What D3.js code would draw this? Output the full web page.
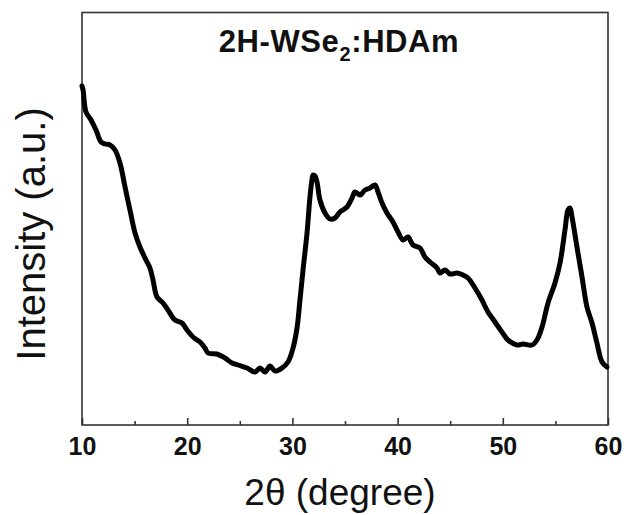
<!DOCTYPE html>
<html>
<head>
<meta charset="utf-8">
<script src="https://cdn.jsdelivr.net/npm/d3@7"></script>
<style>
  html, body { margin: 0; padding: 0; background: #fff; }
  svg { display: block; font-family: Arial, "Liberation Sans", sans-serif; }
</style>
</head>
<body>
<svg id="chart"></svg>
<script>
// XRD pattern
const twoTheta = [
  10.00, 10.10, 10.38, 10.86, 11.33, 11.81, 12.19, 12.66, 13.14, 13.61,
  14.09, 14.56, 15.04, 15.51, 16.08, 16.46, 16.75, 17.13, 17.70, 18.17,
  18.84, 19.50, 19.98, 20.55, 21.22, 21.69, 21.98, 22.83, 23.59, 24.26,
  24.83, 25.68, 26.44, 26.92, 27.40, 27.87, 28.35, 29.01, 29.58, 30.06,
  30.44, 30.72, 31.01, 31.39, 31.67, 31.86, 31.96, 32.15, 32.34, 32.62,
  33.10, 33.57, 34.05, 34.52, 35.19, 35.67, 35.95, 36.43, 36.90, 37.38,
  37.85, 38.14, 38.52, 38.99, 39.56, 40.04, 40.51, 40.99, 41.46, 42.13,
  42.60, 43.08, 43.75, 44.03, 44.51, 44.98, 45.65, 46.22, 46.69, 47.36,
  48.02, 48.59, 49.26, 49.92, 50.49, 51.35, 51.92, 52.78, 53.25, 53.73,
  54.30, 54.96, 55.44, 55.91, 56.20, 56.39, 56.58, 57.05, 57.53, 58.00,
  58.48, 58.95, 59.43, 59.90
]
const intensity = [
  339, 335, 313, 305, 295, 283, 281, 280, 275, 262,
  238, 215, 192, 178, 165, 157, 145, 128, 122, 115,
  105, 102, 95, 88, 83, 77, 72, 71, 67, 62,
  60, 57, 53, 57, 53, 59, 54, 57, 63, 77,
  97, 125, 155, 192, 228, 245, 250, 249, 243, 225,
  212, 206, 207, 213, 218, 227, 233, 230, 235, 237,
  240, 233, 222, 212, 203, 193, 185, 188, 180, 177,
  168, 163, 157, 152, 155, 151, 152, 150, 147, 137,
  125, 113, 103, 93, 85, 80, 81, 80, 85, 98,
  122, 142, 162, 195, 215, 217, 208, 178, 148, 118,
  102, 82, 63, 58
]

const majorTicks = [10, 20, 30, 40, 50, 60]
const minorTicks = [15, 25, 35, 45, 55]

const title = '2H-WSe'
const titleSub = '2'
const titleTail = ':HDAm'
const xLabel = '2θ (degree)'
const yLabel = 'Intensity (a.u.)'

const width = 627
const height = 515
const margin = { top: 12.5, right: 19, bottom: 90, left: 82 }

const svg = d3.select('#chart')
  .attr('width', width)
  .attr('height', height)

const x = d3.scaleLinear()
  .domain([10, 60])
  .range([margin.left, width - margin.right])

const y = d3.scaleLinear()
  .domain([0, 412.5])
  .range([height - margin.bottom, margin.top])

const points = twoTheta.map((t, i) => [t, intensity[i]])

// Frame
svg.append('rect')
  .attr('x', x(10))
  .attr('y', y(412.5))
  .attr('width', x(60) - x(10))
  .attr('height', y(0) - y(412.5))
  .attr('fill', 'none')
  .attr('stroke', '#333')
  .attr('stroke-width', 1.6)

// x axis, ticks pointing inward
const xAxisGroup = svg.append('g')
  .attr('transform', `translate(0,${y(0)})`)
  .call(d3.axisBottom(x).tickValues(majorTicks).tickSizeInner(-7).tickSizeOuter(0).tickPadding(12).tickFormat(d3.format('d')))

xAxisGroup.select('.domain').remove()
xAxisGroup.selectAll('.tick line').attr('stroke', '#333').attr('stroke-width', 1.6)
xAxisGroup.selectAll('.tick text')
  .attr('fill', '#111')
  .attr('font-size', 25)
  .attr('font-weight', 'bold')
  .attr('font-family', 'Arial, "Liberation Sans", sans-serif')

const minorGroup = svg.append('g')
  .attr('transform', `translate(0,${y(0)})`)
  .call(d3.axisBottom(x).tickValues(minorTicks).tickSizeInner(-4).tickSizeOuter(0).tickFormat(''))
minorGroup.select('.domain').remove()
minorGroup.selectAll('.tick line').attr('stroke', '#333').attr('stroke-width', 1.6)

// Pattern
const line = d3.line()
  .x(d => x(d[0]))
  .y(d => y(d[1]))
  .curve(d3.curveCatmullRom.alpha(0.5))

svg.append('path')
  .datum(points)
  .attr('fill', 'none')
  .attr('stroke', '#000')
  .attr('stroke-width', 5)
  .attr('stroke-linejoin', 'round')
  .attr('stroke-linecap', 'round')
  .attr('d', line)

// Title inside the plot
const t = svg.append('text')
  .attr('x', 339)
  .attr('y', 52)
  .attr('text-anchor', 'middle')
  .attr('font-size', 31)
  .attr('font-weight', 'bold')
  .attr('letter-spacing', 0.6)
  .attr('fill', '#111')
t.append('tspan').text(title)
t.append('tspan').attr('font-size', 20).attr('dy', 9).text(titleSub)
t.append('tspan').attr('dy', -9).text(titleTail)

// Axis titles
svg.append('text')
  .attr('x', 340)
  .attr('y', 505)
  .attr('text-anchor', 'middle')
  .attr('font-size', 37)
  .attr('fill', '#111')
  .text(xLabel)

svg.append('text')
  .attr('transform', 'translate(45,234) rotate(-90)')
  .attr('text-anchor', 'middle')
  .attr('font-size', 40)
  .attr('fill', '#111')
  .text(yLabel)
</script>
</body>
</html>
